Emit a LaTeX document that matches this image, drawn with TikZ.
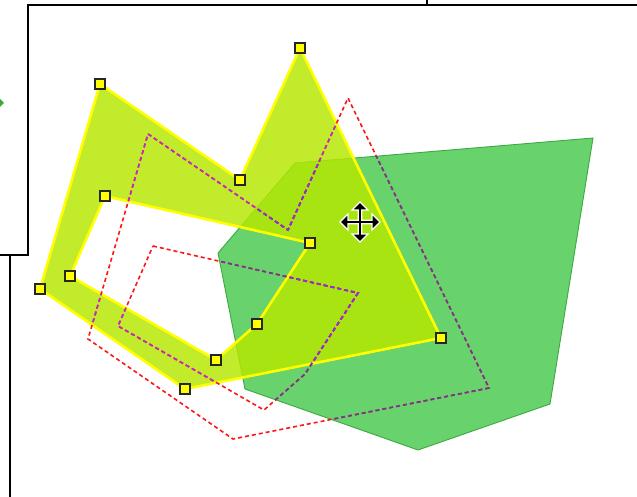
\documentclass[tikz,border=0pt]{standalone}
\usepackage{tikz}
\usetikzlibrary{calc}
\definecolor{shapegreen}{RGB}{104,210,108}
\definecolor{shapeedge}{RGB}{60,170,64}
\definecolor{limefill}{RGB}{182,232,0}
\definecolor{selline}{RGB}{255,255,0}
\definecolor{ghostwhite}{RGB}{255,20,20}
\definecolor{ghostlime}{RGB}{192,40,215}
\definecolor{ghostgreen}{RGB}{110,56,156}
\definecolor{ghostboth}{RGB}{160,40,220}
\tikzset{
  handle/.style={
    rectangle, draw=black!85, line width=1.8pt, fill=selline,
    minimum size=10.5pt, inner sep=0pt
  },
  ghost/.style={line width=1.6pt, dash pattern=on 4pt off 3pt},
  frame/.style={line width=2pt, black},
  selected/.style={fill=limefill, fill opacity=0.83, even odd rule},
}
% outline of the selected shape and of the green one
\newcommand{\selouter}{(100,84) -- (240,180) -- (300,48) -- (441,338) -- (185,389) -- (40,289) -- cycle}
\newcommand{\selinner}{(105,196) -- (310,243) -- (257,324) -- (216,360) -- (70,276) -- cycle}
\newcommand{\greenshape}{(218,253) -- (295,163) -- (593,138) -- (550,404) -- (418,450) -- (245,389) -- cycle}
\newcommand{\ghostpath}{\selouter \selinner}

\begin{document}
\begin{tikzpicture}[x=1pt, y=-1pt]
  \useasboundingbox (0,0) rectangle (637,497);
  \fill[white] (0,0) rectangle (637,497);

  % shapes
  \filldraw[fill=shapegreen, draw=shapeedge, line width=0.9pt] \greenshape;
  \fill[selected] \selouter \selinner;
  \draw[selline, line width=2.6pt, line join=miter] \selouter \selinner;

  % ghost outline while moving
  \begin{scope}[shift={(48,50)}]
    \draw[ghost, ghostwhite] \ghostpath;
  \end{scope}
  \begin{scope}[even odd rule]
    \clip \selouter \selinner;
    \begin{scope}[shift={(48,50)}]
      \draw[ghost, ghostlime] \ghostpath;
    \end{scope}
  \end{scope}
  \begin{scope}
    \clip \greenshape;
    \begin{scope}[shift={(48,50)}]
      \draw[ghost, ghostgreen] \ghostpath;
    \end{scope}
  \end{scope}
  \begin{scope}
    \clip \greenshape;
    \begin{scope}[even odd rule]
      \clip \selouter \selinner;
      \begin{scope}[shift={(48,50)}]
        \draw[ghost, ghostboth] \ghostpath;
      \end{scope}
    \end{scope}
  \end{scope}

  % handles
  \foreach \p [count=\k] in {(100,84),(240,180),(300,48),(441,338),(185,389),(40,289),
                              (105,196),(310,243),(257,324),(216,360),(70,276)}
    \node[handle] (h\k) at \p {};

  % move cursor
  \begin{scope}[shift={(360,222)}]
    \filldraw[fill=black, draw=white, line width=1.2pt, line join=miter]
      (0,-20) -- (8,-12) -- (1.8,-12) -- (1.8,-1.8) -- (12,-1.8) -- (12,-8) -- (20,0)
      -- (12,8) -- (12,1.8) -- (1.8,1.8) -- (1.8,12) -- (8,12) -- (0,20)
      -- (-8,12) -- (-1.8,12) -- (-1.8,1.8) -- (-12,1.8) -- (-12,8) -- (-20,0)
      -- (-12,-8) -- (-12,-1.8) -- (-1.8,-1.8) -- (-1.8,-12) -- (-8,-12) -- cycle;
  \end{scope}

  % window frame
  \coordinate (tl) at (28,5);
  \coordinate (tr) at (637,5);
  \coordinate (tick) at (427,0);
  \coordinate (lb) at (28,255);
  \coordinate (le) at (0,255);
  \coordinate (pt) at (10,255);
  \coordinate (pb) at (10,497);
  \draw[frame] (tr) -- (tl) -- (lb) -- (le);
  \draw[frame] (tick) -- (tick |- tl);
  \draw[frame] (pt) -- (pb);
  \fill[shapeedge] (0,99) -- (4,103) -- (0,107) -- cycle;
\end{tikzpicture}
\end{document}
